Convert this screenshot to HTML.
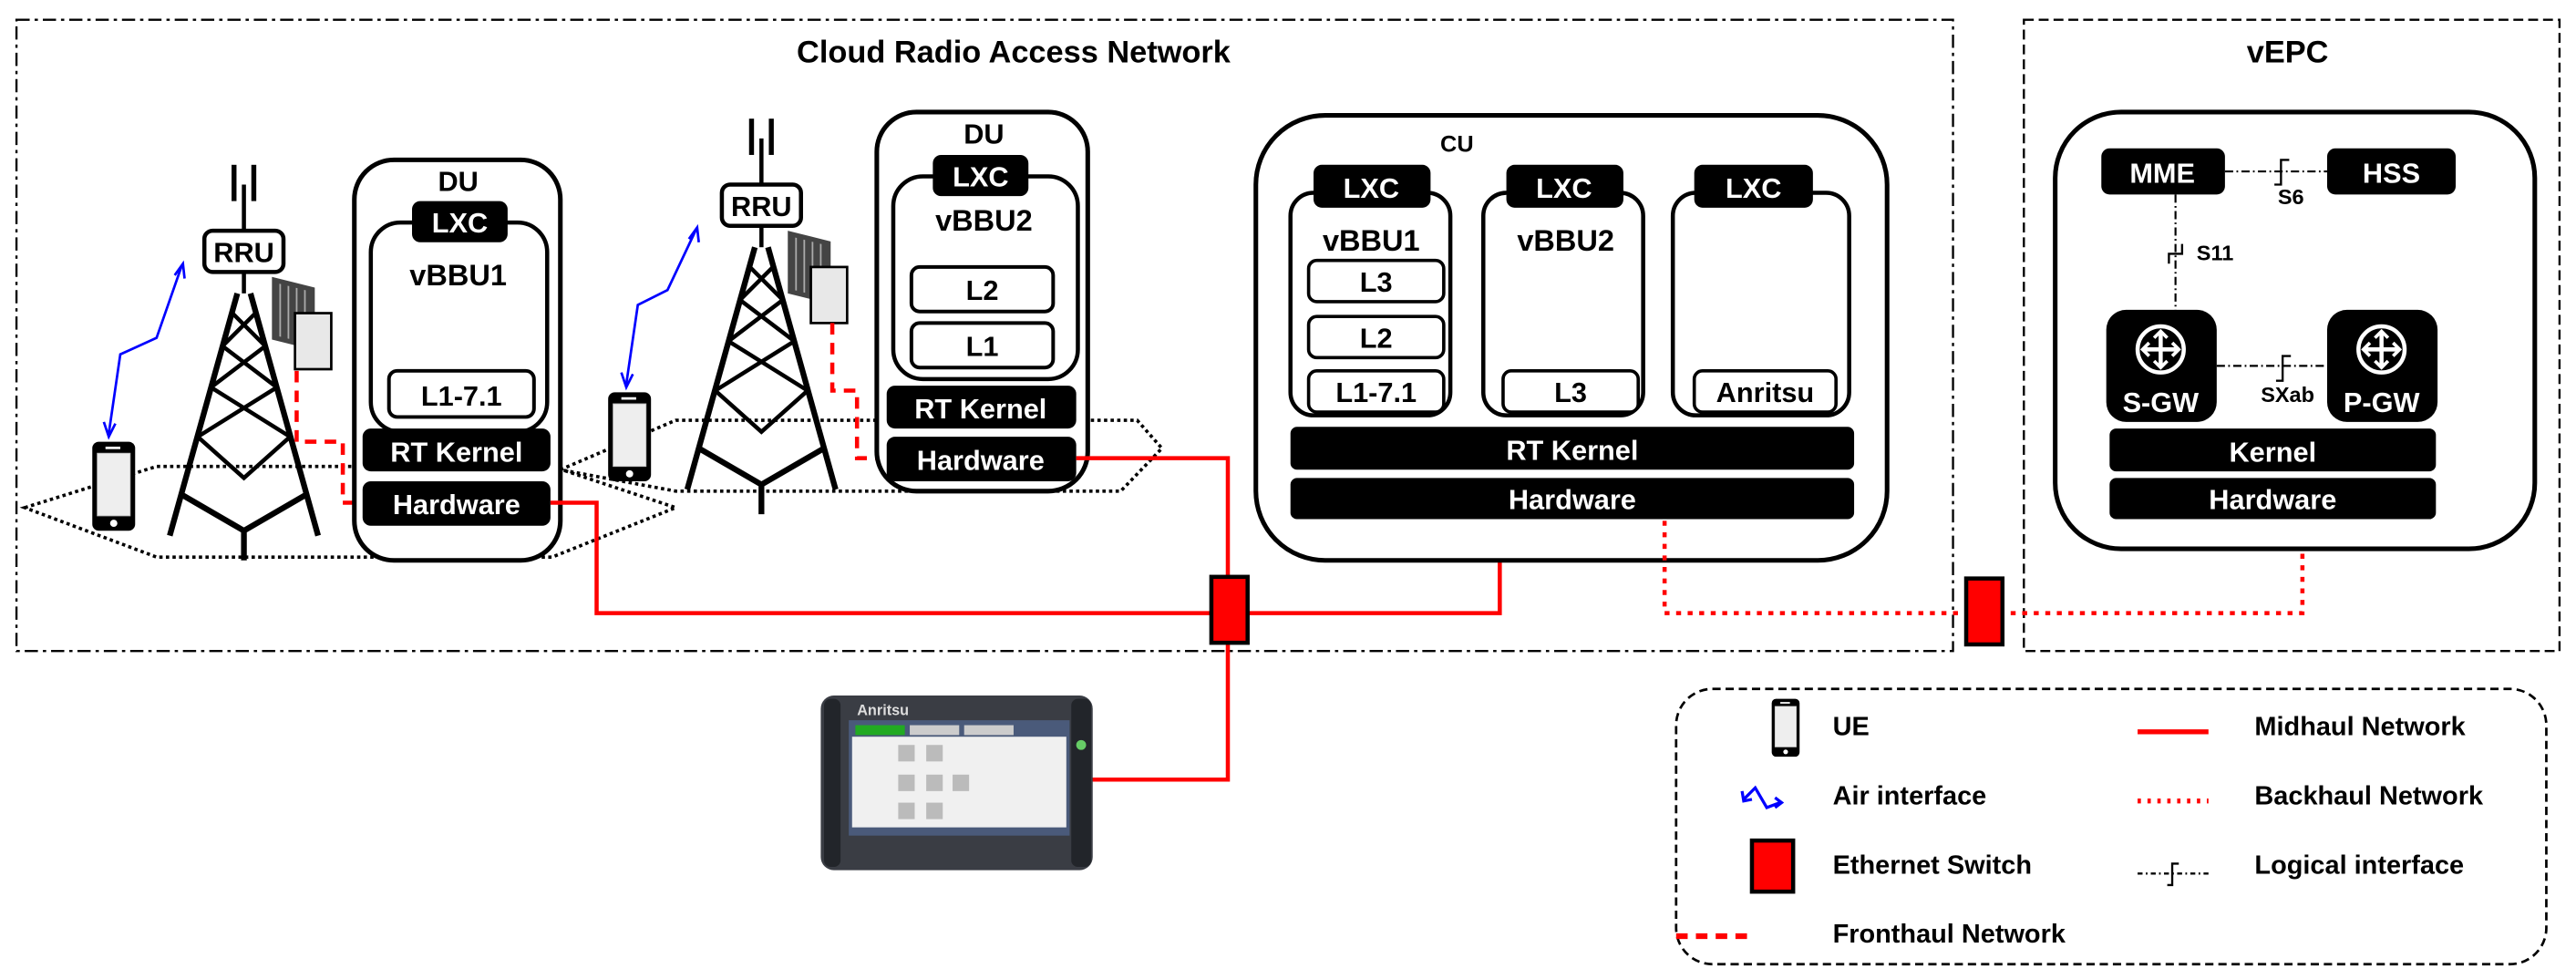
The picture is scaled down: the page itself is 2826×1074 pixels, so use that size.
<!DOCTYPE html>
<html><head><meta charset="utf-8"><style>
html,body{margin:0;padding:0;background:#fff;}
svg{display:block;}
text{font-family:"Liberation Sans Narrow","Liberation Sans",sans-serif;font-weight:bold;}
</style></head><body>
<svg width="2826" height="1074" viewBox="0 0 1563 594" xmlns="http://www.w3.org/2000/svg">
<defs>
<g id="phone"><rect x="0" y="0" width="26" height="54" rx="4" fill="#000"/><rect x="3" y="7" width="20" height="38" fill="#eee" stroke="#bbb" stroke-width="0.5"/><rect x="8" y="3" width="9" height="1.5" fill="#fff"/><circle cx="13" cy="49.5" r="2.2" fill="#fff"/></g>
<g id="tower" fill="none" stroke="#000">
<line x1="0" y1="12" x2="0" y2="40" stroke-width="2.5"/><line x1="-6" y1="0" x2="-6" y2="22" stroke-width="3"/><line x1="6" y1="0" x2="6" y2="22" stroke-width="3"/>
<rect x="-24" y="40" width="48" height="25" rx="5" fill="#fff" stroke-width="2.5"/>
<line x1="0" y1="65" x2="0" y2="78" stroke-width="2.5"/>
<path d="M-4,78 L-45,225 M4,78 L45,225" stroke-width="3.5"/>
<path d="M-38,200 L0,222 L38,200 M0,222 L0,240" stroke-width="3.5"/>
<path d="M-7,90 L13,110 M7,90 L-13,110 M-13,110 L20,135 M13,110 L-20,135 M-20,135 L28,165 M20,135 L-28,165 M-28,165 L0,190 L28,165" stroke-width="2.5"/>
</g>
<g id="radio"><rect x="0" y="0" width="26" height="38" fill="#444" transform="skewY(14)"/><g stroke="#aaa" stroke-width="1" transform="skewY(14)"><line x1="5" y1="3" x2="5" y2="35"/><line x1="10" y1="3" x2="10" y2="35"/><line x1="15" y1="3" x2="15" y2="35"/><line x1="20" y1="3" x2="20" y2="35"/></g><rect x="14" y="22" width="22" height="34" fill="#e8e8e8" stroke="#000" stroke-width="1.5"/></g>
<g id="router"><circle r="14" fill="#000" stroke="#fff" stroke-width="2.5"/><path d="M0,-11 L0,11 M-11,0 L11,0" stroke="#fff" stroke-width="2.5"/><path d="M-4,-7 L0,-11 L4,-7 M-4,7 L0,11 L4,7 M-7,-4 L-11,0 L-7,4 M7,-4 L11,0 L7,4" fill="none" stroke="#fff" stroke-width="2"/></g>
</defs>

<rect x="10" y="12" width="1175" height="383" fill="none" stroke="#000" stroke-width="1.3" stroke-dasharray="8,3,2,3"/>
<rect x="1228" y="12" width="325" height="383" fill="none" stroke="#000" stroke-width="1.3" stroke-dasharray="6,3"/>
<text x="615" y="38" font-size="19" text-anchor="middle">Cloud Radio Access Network</text>
<text x="1388" y="38" font-size="19" text-anchor="middle">vEPC</text>

<path d="M15,308 L95,283 L335,283 L410,308 L335,338 L95,338 Z" fill="none" stroke="#000" stroke-width="2" stroke-dasharray="2,2"/>
<path d="M340,285 L410,255 L690,255 L705,272 L680,298 L410,298 Z" fill="none" stroke="#000" stroke-width="2" stroke-dasharray="2,2"/>

<use href="#tower" x="148" y="100"/>
<use href="#tower" x="462" y="72"/>
<text x="148" y="159" font-size="17" text-anchor="middle">RRU</text>
<text x="462" y="131" font-size="17" text-anchor="middle">RRU</text>
<use href="#radio" x="165" y="168"/>
<use href="#radio" x="478" y="140"/>

<use href="#phone" x="56" y="268"/>
<use href="#phone" x="369" y="238"/>
<g fill="none" stroke="#0000ff" stroke-width="1.5">
<path d="M66,263 L73,215 L95,205 L110,162"/><path d="M63,256 L66,265 L70,257"/><path d="M106,167 L111,160 L112,169"/>
<path d="M380,233 L387,185 L405,176 L422,140"/><path d="M377,226 L380,235 L384,227"/><path d="M418,145 L423,138 L424,147"/>
</g>

<g fill="none" stroke="#f00" stroke-width="2.5" stroke-dasharray="7,5">
<path d="M180,225 L180,268 L208,268 L208,305 L220,305"/>
<path d="M505,196 L505,237 L520,237 L520,278 L538,278"/>
</g>

<rect x="215" y="97" width="125" height="243" rx="24" fill="#fff" stroke="#000" stroke-width="2.8"/>
<text x="278" y="116" font-size="17" text-anchor="middle">DU</text>
<rect x="225" y="135" width="107" height="127" rx="18" fill="#fff" stroke="#000" stroke-width="2.5"/>
<rect x="250" y="122" width="58" height="25" rx="5" fill="#000"/>
<text x="279" y="141" font-size="17" text-anchor="middle" fill="#fff">LXC</text>
<text x="278" y="173" font-size="18" text-anchor="middle">vBBU1</text>
<rect x="236" y="225" width="88" height="28" rx="5" fill="#fff" stroke="#000" stroke-width="2.2"/>
<text x="280" y="246" font-size="17" text-anchor="middle">L1-7.1</text>
<rect x="220" y="260" width="114" height="26" rx="5" fill="#000"/>
<text x="277" y="280" font-size="17" text-anchor="middle" fill="#fff">RT Kernel</text>
<rect x="220" y="292" width="114" height="27" rx="5" fill="#000"/>
<text x="277" y="312" font-size="17" text-anchor="middle" fill="#fff">Hardware</text>

<rect x="532" y="68" width="128" height="230" rx="24" fill="#fff" stroke="#000" stroke-width="2.8"/>
<text x="597" y="87" font-size="17" text-anchor="middle">DU</text>
<rect x="542" y="107" width="112" height="123" rx="18" fill="#fff" stroke="#000" stroke-width="2.5"/>
<rect x="566" y="94" width="58" height="25" rx="5" fill="#000"/>
<text x="595" y="113" font-size="17" text-anchor="middle" fill="#fff">LXC</text>
<text x="597" y="140" font-size="18" text-anchor="middle">vBBU2</text>
<rect x="553" y="162" width="86" height="27" rx="5" fill="#fff" stroke="#000" stroke-width="2.2"/>
<text x="596" y="182" font-size="17" text-anchor="middle">L2</text>
<rect x="553" y="196" width="86" height="27" rx="5" fill="#fff" stroke="#000" stroke-width="2.2"/>
<text x="596" y="216" font-size="17" text-anchor="middle">L1</text>
<rect x="538" y="234" width="115" height="26" rx="5" fill="#000"/>
<text x="595" y="254" font-size="17" text-anchor="middle" fill="#fff">RT Kernel</text>
<rect x="538" y="265" width="115" height="27" rx="5" fill="#000"/>
<text x="595" y="285" font-size="17" text-anchor="middle" fill="#fff">Hardware</text>

<g fill="none" stroke="#f00" stroke-width="2.5">
<path d="M334,305 L362,305 L362,372 L910,372 L910,316"/>
<path d="M653,278 L745,278 L745,352"/>
<path d="M745,390 L745,473 L660,473"/>
</g>
<rect x="735" y="350" width="22" height="40" fill="#f00" stroke="#000" stroke-width="2.5"/>

<rect x="762" y="70" width="383" height="270" rx="42" fill="#fff" stroke="#000" stroke-width="2.8"/>
<text x="884" y="92" font-size="14" text-anchor="middle">CU</text>
<g stroke="#000" stroke-width="2.5" fill="#fff">
<rect x="783" y="117" width="97" height="135" rx="14"/>
<rect x="900" y="117" width="97" height="135" rx="14"/>
<rect x="1015" y="117" width="107" height="135" rx="14"/>
</g>
<g fill="#000">
<rect x="797" y="100" width="71" height="26" rx="5"/>
<rect x="914" y="100" width="71" height="26" rx="5"/>
<rect x="1028" y="100" width="72" height="26" rx="5"/>
</g>
<g fill="#fff" font-size="17" text-anchor="middle">
<text x="832" y="120">LXC</text><text x="949" y="120">LXC</text><text x="1064" y="120">LXC</text>
</g>
<text x="832" y="152" font-size="18" text-anchor="middle">vBBU1</text>
<text x="950" y="152" font-size="18" text-anchor="middle">vBBU2</text>
<g stroke="#000" stroke-width="2" fill="#fff">
<rect x="794" y="158" width="82" height="25" rx="5"/>
<rect x="794" y="192" width="82" height="25" rx="5"/>
<rect x="794" y="225" width="82" height="25" rx="5"/>
<rect x="912" y="225" width="82" height="25" rx="5"/>
<rect x="1028" y="225" width="86" height="25" rx="5"/>
</g>
<g font-size="17" text-anchor="middle">
<text x="835" y="177">L3</text><text x="835" y="211">L2</text><text x="835" y="244">L1-7.1</text>
<text x="953" y="244">L3</text><text x="1071" y="244">Anritsu</text>
</g>
<rect x="783" y="259" width="342" height="26" rx="4" fill="#000"/>
<text x="954" y="279" font-size="17" text-anchor="middle" fill="#fff">RT Kernel</text>
<rect x="783" y="290" width="342" height="25" rx="4" fill="#000"/>
<text x="954" y="309" font-size="17" text-anchor="middle" fill="#fff">Hardware</text>

<path d="M1010,316 L1010,372 L1397,372 L1397,332" fill="none" stroke="#f00" stroke-width="2.5" stroke-dasharray="3,4"/>
<rect x="1193" y="351" width="22" height="40" fill="#f00" stroke="#000" stroke-width="2.5"/>

<rect x="1247" y="68" width="291" height="265" rx="40" fill="#fff" stroke="#000" stroke-width="2.8"/>
<g fill="none" stroke="#000" stroke-width="1.2" stroke-dasharray="5,2,1,2">
<line x1="1350" y1="104" x2="1412" y2="104"/>
<line x1="1320" y1="118" x2="1320" y2="190"/>
<line x1="1345" y1="222" x2="1412" y2="222"/>
</g>
<path d="M1380,112 L1384,112 L1384,97 L1389,97 M1316,160 L1316,154 L1324,154 L1324,148 M1381,231 L1385,231 L1385,216 L1390,216" fill="none" stroke="#000" stroke-width="1.3"/>
<text x="1390" y="124" font-size="13" text-anchor="middle" font-weight="normal">S6</text>
<text x="1344" y="158" font-size="13" text-anchor="middle" font-weight="normal">S11</text>
<text x="1388" y="244" font-size="13" text-anchor="middle" font-weight="normal">SXab</text>
<rect x="1275" y="90" width="75" height="28" rx="5" fill="#000"/>
<text x="1312" y="111" font-size="17" text-anchor="middle" fill="#fff">MME</text>
<rect x="1412" y="90" width="78" height="28" rx="5" fill="#000"/>
<text x="1451" y="111" font-size="17" text-anchor="middle" fill="#fff">HSS</text>
<rect x="1278" y="188" width="67" height="68" rx="12" fill="#000"/>
<rect x="1412" y="188" width="67" height="68" rx="12" fill="#000"/>
<use href="#router" x="1311" y="212"/>
<use href="#router" x="1445" y="212"/>
<text x="1311" y="250" font-size="17" text-anchor="middle" fill="#fff">S-GW</text>
<text x="1445" y="250" font-size="17" text-anchor="middle" fill="#fff">P-GW</text>
<rect x="1280" y="260" width="198" height="26" rx="4" fill="#000"/>
<text x="1379" y="280" font-size="17" text-anchor="middle" fill="#fff">Kernel</text>
<rect x="1280" y="290" width="198" height="25" rx="4" fill="#000"/>
<text x="1379" y="309" font-size="17" text-anchor="middle" fill="#fff">Hardware</text>

<rect x="498" y="422" width="165" height="106" rx="8" fill="#3a3d44"/>
<rect x="500" y="424" width="10" height="102" rx="4" fill="#22252a"/>
<rect x="650" y="424" width="12" height="102" rx="4" fill="#22252a"/>
<rect x="515" y="437" width="134" height="70" fill="#4a5a7a"/>
<rect x="517" y="447" width="130" height="55" fill="#f0f0f0"/>
<rect x="519" y="440" width="30" height="6" fill="#2a2"/>
<rect x="552" y="440" width="30" height="6" fill="#ccc"/>
<rect x="585" y="440" width="30" height="6" fill="#ccc"/>
<g fill="#bbb"><rect x="545" y="452" width="10" height="10"/><rect x="562" y="452" width="10" height="10"/><rect x="545" y="470" width="10" height="10"/><rect x="562" y="470" width="10" height="10"/><rect x="578" y="470" width="10" height="10"/><rect x="545" y="487" width="10" height="10"/><rect x="562" y="487" width="10" height="10"/></g>
<text x="520" y="434" font-size="9" fill="#ddd" font-weight="normal">Anritsu</text>
<circle cx="656" cy="452" r="3" fill="#6c6"/>

<rect x="1017" y="418" width="528" height="167" rx="22" fill="none" stroke="#000" stroke-width="1.5" stroke-dasharray="5,3"/>
<use href="#phone" x="1075" y="424" transform="translate(1075,424) scale(0.65) translate(-1075,-424)"/>
<g font-size="16">
<text x="1112" y="446">UE</text>
<text x="1368" y="446">Midhaul Network</text>
<text x="1112" y="488">Air interface</text>
<text x="1368" y="488">Backhaul Network</text>
<text x="1112" y="530">Ethernet Switch</text>
<text x="1368" y="530">Logical interface</text>
<text x="1112" y="572">Fronthaul Network</text>
</g>
<line x1="1297" y1="444" x2="1340" y2="444" stroke="#f00" stroke-width="3"/>
<line x1="1297" y1="486" x2="1340" y2="486" stroke="#f00" stroke-width="3" stroke-dasharray="2,4"/>
<rect x="1063" y="510" width="25" height="31" fill="#f00" stroke="#000" stroke-width="2.5"/>
<line x1="1017" y1="568" x2="1062" y2="568" stroke="#f00" stroke-width="3.5" stroke-dasharray="7,5"/>
<path d="M1297,530 L1340,530" stroke="#000" stroke-width="1.3" stroke-dasharray="3,2,1,2"/>
<path d="M1315,537 L1318,537 L1318,524 L1322,524" fill="none" stroke="#000" stroke-width="1.3"/>
<g fill="none" stroke="#0000ff" stroke-width="1.8"><path d="M1058,485 L1065,478 L1072,490 L1080,487"/><path d="M1057,480 L1058,486 L1063,485"/><path d="M1077,484 L1081,487 L1077,490"/></g>
</svg>
</body></html>
